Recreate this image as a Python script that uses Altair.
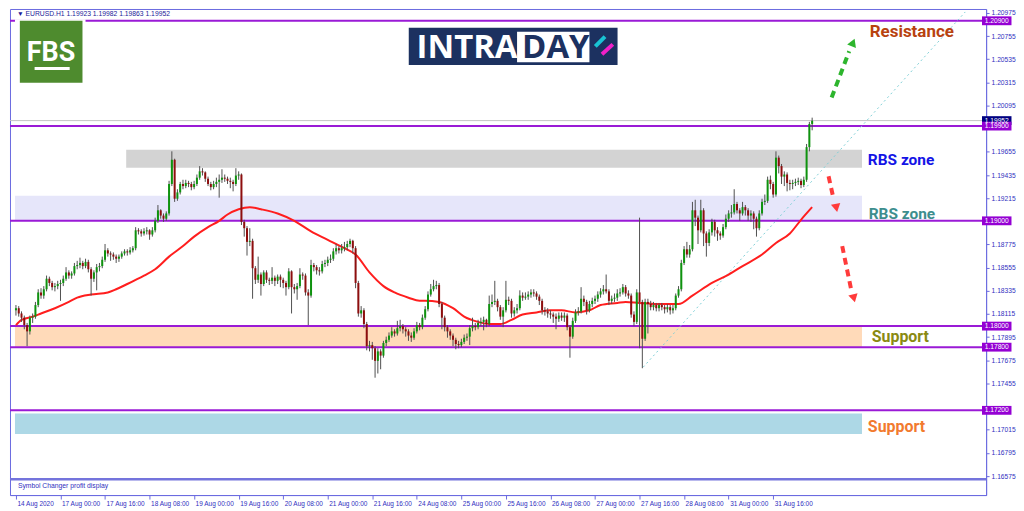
import altair as alt
import pandas as pd

# H1 bars, bar 0 = 14 Aug 2020 08:00. Prices stored as pips above 1.1000
PIP0 = 1.1
opens = [815,817,812,808,801,795,808,809,820,832,
 829,835,845,841,837,838,840,841,845,851,
 848,850,857,858,860,857,861,854,845,851,
 856,857,863,872,869,868,866,864,866,869,
 871,870,872,874,891,890,888,890,891,887,
 891,900,910,905,902,907,935,958,921,927,
 935,933,936,935,932,935,941,947,946,940,
 935,932,935,937,939,941,940,938,937,935,
 943,944,899,893,880,881,855,844,849,840,
 851,844,843,846,843,847,844,841,837,852,
 837,835,838,849,848,832,829,858,856,853,
 852,859,860,863,864,871,874,872,874,875,
 878,881,874,841,812,815,802,781,782,779,
 767,776,772,784,787,791,795,793,798,800,
 797,795,791,789,795,801,799,808,816,830,
 835,838,839,821,808,799,795,791,787,783,
 782,785,789,790,798,800,799,803,804,806,
 802,821,823,824,818,809,815,825,824,812,
 815,817,829,827,828,830,832,831,828,824,
 815,814,812,811,809,807,810,808,810,799,
 790,805,813,814,826,823,815,821,824,826,
 830,833,835,833,824,826,827,831,832,837,
 831,829,811,804,832,823,788,823,821,818,
 820,817,820,818,816,818,815,817,829,835,
 860,873,868,873,910,903,891,910,888,879,
 889,899,891,888,886,894,902,907,908,916,
 910,907,913,910,905,907,902,893,907,918,
 919,939,935,925,960,952,942,944,936,935,
 936,937,938,934,939,970,992]
highs = [820,819,814,810,803,810,812,823,835,836,
 838,848,847,843,841,843,844,848,856,853,
 852,860,862,865,862,864,863,856,853,859,
 860,866,878,874,871,870,868,868,871,873,
 873,875,876,894,893,892,893,894,892,894,
 903,915,911,907,909,938,966,959,930,937,
 939,939,938,937,938,944,952,950,947,942,
 937,938,941,944,949,944,942,941,939,950,
 947,945,901,895,893,883,857,866,851,853,
 853,846,856,848,849,849,846,843,855,853,
 840,841,855,851,850,835,863,860,858,856,
 862,863,866,868,874,878,876,878,880,881,
 883,882,876,843,819,817,804,786,785,781,
 779,778,786,790,794,799,797,805,806,802,
 799,797,794,798,804,803,811,819,833,840,
 844,843,841,823,810,801,797,793,789,786,
 788,792,793,801,808,803,806,808,809,807,
 829,830,843,826,820,818,843,828,826,818,
 821,834,832,832,833,835,835,833,830,826,
 818,817,815,813,812,813,813,813,812,801,
 808,816,818,837,829,825,824,827,829,833,
 836,839,849,835,829,831,835,836,840,839,
 834,831,814,835,903,825,826,826,824,823,
 822,822,822,820,821,820,820,831,838,863,
 876,880,877,918,920,905,920,912,890,892,
 902,901,894,890,897,906,910,915,930,918,
 912,918,915,912,910,909,904,910,921,925,
 942,943,937,966,962,954,947,946,939,939,
 940,941,940,942,973,994,998]
lows = [810,809,804,797,781,792,803,807,818,826,
 826,833,838,834,833,835,824,838,843,845,
 845,848,854,855,854,855,851,829,842,834,
 852,855,861,866,862,863,860,861,864,867,
 867,868,870,872,887,885,886,887,882,885,
 889,898,902,899,900,905,933,918,919,925,
 930,931,932,929,930,933,939,943,937,933,
 929,930,932,922,936,937,935,931,928,933,
 939,896,885,867,876,826,840,841,829,838,
 841,839,840,838,840,837,836,829,835,812,
 831,825,836,844,829,801,827,852,849,848,
 850,856,857,860,862,868,869,869,871,872,
 875,869,836,809,808,798,777,776,768,751,
 755,759,770,781,785,789,790,791,795,793,
 790,786,785,787,793,796,797,806,814,828,
 833,835,818,797,795,789,787,781,778,779,
 780,783,786,782,795,796,797,800,796,799,
 800,818,820,814,806,799,813,820,808,809,
 812,815,824,825,825,827,828,825,820,811,
 810,808,807,803,797,804,805,804,796,770,
 788,803,810,812,819,811,813,818,821,823,
 827,830,831,820,821,823,824,828,830,828,
 826,808,800,802,779,760,786,793,815,815,
 814,814,815,812,813,811,812,815,827,833,
 858,865,865,871,895,878,889,876,866,876,
 886,885,881,882,884,892,899,903,906,907,
 900,905,905,900,899,892,885,891,905,915,
 917,930,922,923,945,935,933,928,929,930,
 933,934,931,932,937,966,986]
closes = [817,812,808,801,795,808,809,820,832,829,
 835,845,841,837,838,840,841,845,851,848,
 850,857,858,860,857,861,854,845,851,856,
 857,863,872,869,868,866,864,866,869,871,
 870,872,874,891,890,888,890,891,887,891,
 900,910,905,902,907,935,958,921,927,935,
 933,936,935,932,935,941,947,946,940,935,
 932,935,937,939,941,940,938,937,935,943,
 944,899,893,880,881,855,844,849,840,851,
 844,843,846,843,847,844,841,837,852,837,
 835,838,849,848,832,829,858,856,853,852,
 859,860,863,864,871,874,872,874,875,878,
 881,874,841,812,815,802,781,782,779,767,
 776,772,784,787,791,795,793,798,800,797,
 795,791,789,795,801,799,808,816,830,835,
 838,839,821,808,799,795,791,787,783,782,
 785,789,790,798,800,799,803,804,806,802,
 821,823,824,818,809,815,825,824,812,815,
 817,829,827,828,830,832,831,828,824,815,
 814,812,811,809,807,810,808,810,799,790,
 805,813,814,826,823,815,821,824,826,830,
 833,835,833,824,826,827,831,832,837,831,
 829,811,804,832,823,788,823,821,818,820,
 817,820,818,816,818,815,817,829,835,860,
 873,868,873,910,903,891,910,888,879,889,
 899,891,888,886,894,902,907,908,916,910,
 907,913,910,905,907,902,893,907,918,919,
 939,935,925,960,952,942,944,936,935,936,
 937,938,934,939,970,992,995]

# red moving average, read at selected bars
ma_bar = [0,2,6,9,14,19,22,27,33,36,40,46,50,55,60,64,69,73,76,80,84,88,94,100,106,112,118,122,127,132,136,141,145,
          147,152,157,161,166,170,174,178,182,187,192,196,201,206,210,216,219,224,232,238,243,250,256,261,268,273,278,282,286]
ma_price = [1.1801,1.1806,1.1809,1.1812,1.1817,1.1823,1.1827,1.1830,1.1832,1.1835,1.1840,1.1848,1.1854,1.1866,1.1876,1.1885,1.1894,1.1900,1.1906,1.1911,1.1913,1.1911,1.1907,1.1900,1.1890,1.1882,1.1874,1.1868,1.1851,1.1838,1.1832,1.1827,1.1824,
            1.1824,1.1823,1.1817,1.1809,1.1804,1.1802,1.1802,1.1806,1.1811,1.1813,1.1815,1.1815,1.1813,1.1815,1.1820,1.1822,1.1823,1.1822,1.1821,1.1821,1.1829,1.1841,1.1849,1.1857,1.1868,1.1879,1.1888,1.1901,1.1913]

x_tick_bars = [0,16,32,48,64,80,96,112,128,144,160,176,192,208,224,240,256,272]
x_tick_labels = ["14 Aug 2020","17 Aug 00:00","17 Aug 16:00","18 Aug 08:00","19 Aug 00:00","19 Aug 16:00",
                 "20 Aug 08:00","21 Aug 00:00","21 Aug 16:00","24 Aug 08:00","25 Aug 00:00","25 Aug 16:00",
                 "26 Aug 08:00","27 Aug 00:00","27 Aug 16:00","28 Aug 08:00","31 Aug 00:00","31 Aug 16:00"]
# price-scale labels that are not covered by the level boxes
y_tick_values = [1.20975,1.20755,1.20535,1.20315,1.20095,1.19655,1.19435,1.19215,1.18775,
                 1.18555,1.18335,1.18115,1.17895,1.17675,1.17455,1.17015,1.16795,1.16575]

level_prices = [1.20900, 1.19900, 1.19000, 1.18000, 1.17800, 1.17200]
bid_price = 1.19952
separator_price = 1.16545
header_text = "\u25BC  EURUSD.H1  1.19923 1.19982 1.19863 1.19952"

zone_x0 = [39.6, -0.35, -0.35, -0.35]
zone_x1 = [303.9, 303.9, 303.9, 303.9]
zone_top = [1.19676, 1.19239, 1.18000, 1.17171]
zone_bot = [1.19505, 1.19000, 1.17800, 1.16975]
zone_color = ["#D3D3D3", "#E6E6FA", "#FFDAB9", "#ADD8E6"]

ann_text = ["Resistance", "RBS zone", "RBS zone", "Support", "Support"]
ann_bar = [306.7, 306.0, 306.3, 307.4, 306.0]
ann_price = [1.20750, 1.19529, 1.19022, 1.17847, 1.16996]
ann_color = ["#B8420F", "#1414E6", "#3D8E8E", "#8A8A12", "#F27A2E"]
ann_size = [17, 15.5, 15.5, 16, 16]

arr_x0 = [293.0, 291.9, 296.8]
arr_y0 = [1.20171, 1.19423, 1.18760]
arr_x1 = [299.3, 293.7, 300.0]
arr_y1 = [1.20610, 1.19208, 1.18349]
arr_color = ["#2DB52D", "#FF3B3B", "#FF3B3B"]

logo_arr_x0 = [208.1, 214.4]
logo_arr_y0 = [1.20657, 1.20676]
logo_arr_x1 = [211.6, 210.5]
logo_arr_y1 = [1.20750, 1.20582]
logo_arr_color = ["#19C3D3", "#F020C8"]

head_x = [300.7, 294.7, 301.0, 212.6, 209.1]
head_y = [1.20694, 1.19122, 1.18264, 1.20788, 1.20545]
head_angle = [22, 169, 166, 45, 225]
head_color = ["#2DB52D", "#FF3B3B", "#FF3B3B", "#19C3D3", "#F020C8"]
head_size = [90, 90, 90, 45, 45]

trend_x = [225.3, 341.0]
trend_y = [1.17610, 1.20984]

logo_x0 = [-0.35, 1.4, 6.7, 141.1, 180.0]
logo_x1 = [25.0, 23.9, 19.3, 216.1, 206.0]
logo_top = [1.20915, 1.20900, 1.20461, 1.20835, 1.20797]
logo_bot = [1.20885, 1.20311, 1.20433, 1.20479, 1.20507]
logo_col = ["#FFFFFF", "#4E8B2E", "#FFFFFF", "#1C3160", "#FFFFFF"]

box_x0, box_x1, box_half = 347.0, 357.6, 0.00042

# ---------------------------------------------------------------
AX = "#2F2FC0"
AXL = "#6B6BE0"
xs = alt.Scale(domain=[-0.35, 346.7], nice=False, zero=False)
ys = alt.Scale(domain=[1.163953, 1.210121], nice=False, zero=False)

label_expr = ("[" + ",".join("'%s'" % s for s in x_tick_labels) + "][indexof(["
              + ",".join(str(v) for v in x_tick_bars) + "], datum.value)]")

x_axis = alt.Axis(values=x_tick_bars, labelExpr=label_expr, title=None, orient="bottom", labelAlign="left",
                  labelBaseline="top", labelPadding=1, labelOffset=1, labelFontSize=6.5, labelFont="Liberation Sans",
                  labelColor=AX, tickColor=AXL, domainColor=AXL, tickSize=4, labelOverlap=False, labelFlush=False,
                  labelBound=False, grid=False, zindex=0)
y_axis = alt.Axis(values=y_tick_values, format=".5f", title=None, orient="right", labelFontSize=6.7,
                  labelFont="Liberation Sans", labelColor=AX, tickColor=AXL, domainColor=AXL, tickSize=3,
                  labelPadding=2, labelOverlap=False, labelFlush=False, labelBound=False, grid=False, zindex=0)


def X(f):
    return alt.X(f, type="quantitative", scale=xs, axis=x_axis)


def Y(f):
    return alt.Y(f, type="quantitative", scale=ys, axis=y_axis)


df = pd.DataFrame({
    "bar": list(range(len(closes))),
    "open": [PIP0 + v / 1e4 for v in opens],
    "high": [PIP0 + v / 1e4 for v in highs],
    "low": [PIP0 + v / 1e4 for v in lows],
    "close": [PIP0 + v / 1e4 for v in closes],
})

zones = pd.DataFrame({"x0": zone_x0, "x1": zone_x1, "y0": zone_bot, "y1": zone_top, "c": zone_color})
zone_layer = alt.Chart(zones).mark_rect().encode(
    x=X("x0"), x2="x1", y=Y("y0"), y2="y1", color=alt.Color("c:N", scale=None))

levels = pd.DataFrame({"p": level_prices})
level_layer = alt.Chart(levels).mark_rule(color="#9A1AD6", strokeWidth=2).encode(y=Y("p"))
bid_layer = alt.Chart(pd.DataFrame({"p": [bid_price]})).mark_rule(color="#C4C4C4", strokeWidth=1).encode(y=Y("p"))
sep_layer = alt.Chart(pd.DataFrame({"p": [separator_price]})).mark_rule(color="#7474DC", strokeWidth=2.5).encode(y=Y("p"))

trend = pd.DataFrame({"x0": [trend_x[0]], "x1": [trend_x[1]], "y0": [trend_y[0]], "y1": [trend_y[1]]})
trend_layer = alt.Chart(trend).mark_rule(color="#7FCFD6", strokeWidth=1, strokeDash=[2, 3]).encode(
    x=X("x0"), x2="x1", y=Y("y0"), y2="y1")

ma = pd.DataFrame({"bar": ma_bar, "ma": ma_price})
ma_layer = alt.Chart(ma).mark_line(color="#FF1E1E", strokeWidth=2, interpolate="monotone").encode(
    x=X("bar"), y=Y("ma"))

wick_layer = alt.Chart(df).mark_rule(color="#505050", strokeWidth=1).encode(
    x=X("bar"), y=Y("low"), y2="high")
body_layer = alt.Chart(df).mark_bar(width=2).encode(
    x=X("bar"), y=Y("open"), y2="close",
    color=alt.condition("datum.close >= datum.open", alt.value("#0E930E"), alt.value("#8E0E0E")))

arrows = pd.DataFrame({"x0": arr_x0, "y0": arr_y0, "x1": arr_x1, "y1": arr_y1, "c": arr_color})
arrow_layer = alt.Chart(arrows).mark_rule(strokeWidth=4, strokeDash=[7, 5]).encode(
    x=X("x0"), x2="x1", y=Y("y0"), y2="y1", color=alt.Color("c:N", scale=None))
logo_arrows = pd.DataFrame({"x0": logo_arr_x0, "y0": logo_arr_y0, "x1": logo_arr_x1, "y1": logo_arr_y1,
                            "c": logo_arr_color})

heads = pd.DataFrame({"x": head_x, "y": head_y, "a": head_angle, "c": head_color, "s": head_size})
head_layer = alt.Chart(heads).mark_point(shape="triangle-up", filled=True, opacity=1).encode(
    x=X("x"), y=Y("y"), angle=alt.Angle("a:Q", scale=None), color=alt.Color("c:N", scale=None),
    size=alt.Size("s:Q", scale=None))

ann = pd.DataFrame({"t": ann_text, "x": ann_bar, "y": ann_price, "c": ann_color, "s": ann_size})
ann_layer = alt.Chart(ann).mark_text(font="Roboto", fontWeight="bold", align="left", baseline="alphabetic").encode(
    x=X("x"), y=Y("y"), text="t:N", color=alt.Color("c:N", scale=None), size=alt.Size("s:Q", scale=None))

logos = pd.DataFrame({"x0": logo_x0, "x1": logo_x1, "y0": logo_bot, "y1": logo_top, "c": logo_col})
logo_layer = alt.Chart(logos).mark_rect().encode(
    x=X("x0"), x2="x1", y=Y("y0"), y2="y1", color=alt.Color("c:N", scale=None))
logo_arrow_layer = alt.Chart(logo_arrows).mark_rule(strokeWidth=4).encode(
    x=X("x0"), x2="x1", y=Y("y0"), y2="y1", color=alt.Color("c:N", scale=None))

fbs_layer = alt.Chart(pd.DataFrame({"t": ["FBS"], "x": [12.6], "y": [1.20517]})).mark_text(
    font="Roboto", fontWeight="bold", fontSize=27, color="white", align="center", baseline="alphabetic").encode(
    x=X("x"), y=Y("y"), text="t:N")
intra_layer = alt.Chart(pd.DataFrame({"t": ["INTRA", "DAY"], "x": [143.9, 181.8], "y": [1.20545, 1.20545],
                                      "c": ["#FFFFFF", "#1C3160"]})).mark_text(
    font="Open Sans", fontWeight="bold", fontSize=33, align="left", baseline="alphabetic").encode(
    x=X("x"), y=Y("y"), text="t:N", color=alt.Color("c:N", scale=None))

small_text = pd.DataFrame({"t": [header_text, "Symbol Changer profit display"], "x": [0.35, 0.7],
                           "y": [1.20965, 1.16479], "c": ["#1A1A99", "#2F2FC0"]})
small_layer = alt.Chart(small_text).mark_text(font="Liberation Sans", fontSize=6.8, align="left",
                                               baseline="middle").encode(
    x=X("x"), y=Y("y"), text="t:N", color=alt.Color("c:N", scale=None))

box_prices = [bid_price] + level_prices
box_colors = ["#000080"] + ["#9400D3"] * len(level_prices)
boxes = pd.DataFrame({"p": box_prices, "c": box_colors, "t": ["%.5f" % v for v in box_prices]})
boxes["x0"] = box_x0
boxes["x1"] = box_x1
boxes["xm"] = (box_x0 + box_x1) / 2
boxes["y0"] = boxes["p"] - box_half
boxes["y1"] = boxes["p"] + box_half
box_layer = alt.Chart(boxes).mark_rect().encode(
    x=X("x0"), x2="x1", y=Y("y0"), y2="y1", color=alt.Color("c:N", scale=None))
box_text_layer = alt.Chart(boxes).mark_text(font="Liberation Sans", fontSize=6.7, color="white",
                                            align="center", baseline="middle").encode(
    x=X("xm"), y=Y("p"), text="t:N")

chart = alt.layer(
    zone_layer, bid_layer, level_layer, sep_layer, trend_layer, ma_layer,
    wick_layer, body_layer, arrow_layer, head_layer, ann_layer, logo_layer, logo_arrow_layer,
    fbs_layer, intra_layer, small_layer, box_layer, box_text_layer
).properties(
    width=980, height=488, background="white", padding={"left": 0, "top": 0, "right": 0, "bottom": 0}
).configure_view(stroke=AXL, strokeWidth=1)

chart.save("out.html", embed_options={"renderer": "svg", "actions": False})
